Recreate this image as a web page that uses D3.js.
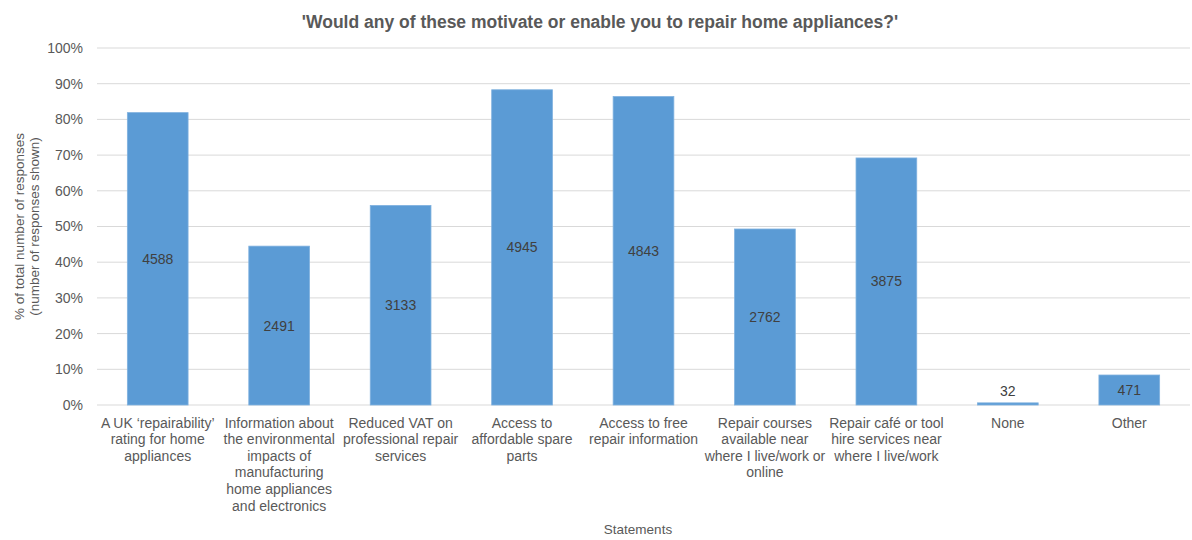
<!DOCTYPE html>
<html>
<head>
<meta charset="utf-8">
<script src="https://cdn.jsdelivr.net/npm/d3@7"></script>
<style>
  body { margin: 0; background: #fff; }
  svg { font-family: "Liberation Sans", Arial, Helvetica, sans-serif; }
</style>
</head>
<body>
<svg id="chart" width="1192" height="540"></svg>
<script>
const categories = [
  ["A UK \u2018repairability\u2019", "rating for home", "appliances"],
  ["Information about", "the environmental", "impacts of", "manufacturing", "home appliances", "and electronics"],
  ["Reduced VAT on", "professional repair", "services"],
  ["Access to", "affordable spare", "parts"],
  ["Access to free", "repair information"],
  ["Repair courses", "available near", "where I live/work or", "online"],
  ["Repair caf\u00e9 or tool", "hire services near", "where I live/work"],
  ["None"],
  ["Other"]
];
const percentValues = [81.9, 44.5, 55.9, 88.3, 86.4, 49.3, 69.2, 0.6, 8.4];
const responseCounts = [4588, 2491, 3133, 4945, 4843, 2762, 3875, 32, 471];
const yTicks = [0, 10, 20, 30, 40, 50, 60, 70, 80, 90, 100];

const title = "'Would any of these motivate or enable you to repair home appliances?'";
const yTitle = ["% of total number of responses", "(number of responses shown)"];
const xTitle = "Statements";

const svg = d3.select("#chart");
const margin = { left: 97, right: 2, top: 48, bottom: 135 };
const W = 1192, H = 540;

const x = d3.scaleBand()
  .domain(d3.range(categories.length))
  .range([margin.left, W - margin.right])
  .paddingInner(0.5).paddingOuter(0.25);
const y = d3.scaleLinear().domain([0, 100]).range([H - margin.bottom, margin.top]);

// gridlines
svg.append("g").selectAll("line").data(yTicks).join("line")
  .attr("x1", margin.left).attr("x2", W - margin.right)
  .attr("y1", d => y(d)).attr("y2", d => y(d))
  .attr("stroke", "#d9d9d9").attr("stroke-width", 1);

// y axis labels
const yAxis = d3.axisLeft(y).tickValues(yTicks).tickFormat(d => d + "%").tickSize(0).tickPadding(14);
const ya = svg.append("g").attr("transform", `translate(${margin.left},0)`).call(yAxis);
ya.select(".domain").remove();
ya.selectAll("text").attr("fill", "#595959").attr("font-size", 14).attr("font-family", "Liberation Sans, Arial, sans-serif");

// bars
svg.append("g").selectAll("rect").data(percentValues).join("rect")
  .attr("x", (d, i) => x(i))
  .attr("width", x.bandwidth())
  .attr("y", d => y(d))
  .attr("height", d => y(0) - y(d))
  .attr("fill", "#5b9bd5")
  .attr("stroke", "#7fb1df").attr("stroke-width", 0.8);

// value labels
svg.append("g").selectAll("text").data(percentValues).join("text")
  .attr("x", (d, i) => x(i) + x.bandwidth() / 2)
  .attr("y", d => {
    const h = y(0) - y(d);
    return h < 20 ? y(d) - 7 : (y(d) + y(0)) / 2 + 5;
  })
  .attr("text-anchor", "middle")
  .attr("font-size", 14)
  .attr("fill", "#404040")
  .text((d, i) => responseCounts[i]);

// x category labels
const xa = svg.append("g");
categories.forEach((lines, i) => {
  const t = xa.append("text")
    .attr("x", x(i) + x.bandwidth() / 2)
    .attr("y", 427.5)
    .attr("text-anchor", "middle")
    .attr("font-size", 14)
    .attr("fill", "#595959");
  lines.forEach((ln, j) => {
    t.append("tspan").attr("x", x(i) + x.bandwidth() / 2).attr("dy", j === 0 ? 0 : 16.6).text(ln);
  });
});

// title
svg.append("text")
  .attr("x", 600).attr("y", 28)
  .attr("text-anchor", "middle")
  .attr("font-size", 17.5).attr("font-weight", "bold")
  .attr("fill", "#595959")
  .text(title);

// y title
const yt = svg.append("text")
  .attr("transform", `translate(24,${(y(0) + y(100)) / 2}) rotate(-90)`)
  .attr("text-anchor", "middle")
  .attr("font-size", 13.5)
  .attr("fill", "#595959");
yTitle.forEach((ln, j) => yt.append("tspan").attr("x", 0).attr("dy", j === 0 ? 0 : 15).text(ln));

// x title
svg.append("text")
  .attr("x", 638).attr("y", 534)
  .attr("text-anchor", "middle")
  .attr("font-size", 13.5)
  .attr("fill", "#595959")
  .text(xTitle);
</script>
</body>
</html>
